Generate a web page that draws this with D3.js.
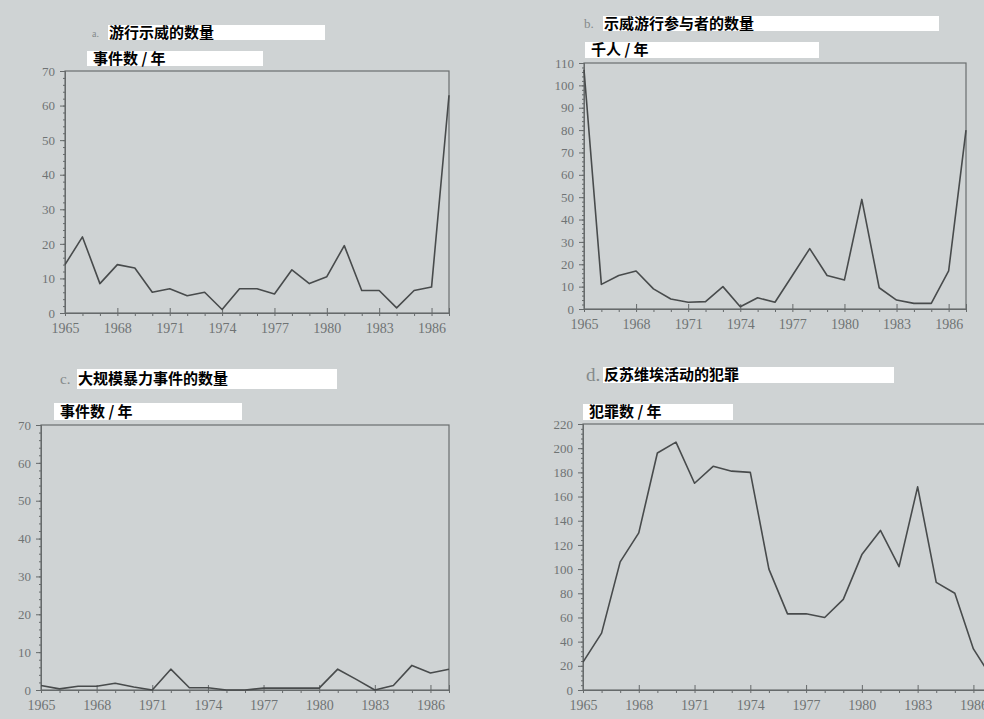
<!DOCTYPE html>
<html lang="zh">
<head>
  <meta charset="utf-8">
  <title>四个小图</title>
  <script src="https://cdn.jsdelivr.net/npm/d3@7"></script>
  <style>
    body { margin: 0; background: #cfd3d4; }
    svg { display: block; }
    .tick text { font-family: "Liberation Serif", "DejaVu Serif", serif; fill: #6f7374; }
    .domain, .tick line { stroke: #666a6b; }
  </style>
</head>
<body>
  <script>
    // 数据
    var years = d3.range(1965, 1988);
    var demonstrations = [14, 22, 8.5, 14, 13, 6, 7, 5, 6, 1, 7, 7, 5.5, 12.5, 8.5, 10.5, 19.5, 6.5, 6.5, 1.5, 6.5, 7.5, 63];
    var participants = [107, 11, 15, 17, 9, 4.5, 3, 3.3, 10, 1, 5, 3, 15, 27, 15, 13, 49, 9.5, 4, 2.5, 2.5, 17, 80];
    var violence = [1.2, 0.3, 1, 1, 1.8, 0.8, 0, 5.5, 0.6, 0.6, 0, 0, 0.5, 0.5, 0.5, 0.5, 5.5, 2.8, 0, 1.2, 6.5, 4.5, 5.5];
    var crimes = [23, 47, 106, 130, 196, 205, 171, 185, 181, 180, 100, 63, 63, 60, 75, 112, 132, 102, 168, 89, 80, 34, 10];
    var yearTicks = d3.range(1965, 1987, 3);
    var titles = ['游行示威的数量', '示威游行参与者的数量', '大规模暴力事件的数量', '反苏维埃活动的犯罪'];
    var units = ['事件数 / 年', '千人 / 年', '事件数 / 年', '犯罪数 / 年'];
    var letters = ['a.', 'b.', 'c.', 'd.'];

    var svg = d3.select('body').append('svg')
      .attr('width', 984)
      .attr('height', 719);

    // 版面位置
    var panels = [
      { values: demonstrations, max: 70, step: 10, x: [65, 449], y: [313, 71],
        letter: [92, 37, 10], title: [108, 25, 217, 15], unit: [87, 51, 176, 15] },
      { values: participants, max: 110, step: 10, x: [584, 966], y: [309, 63],
        letter: [584, 28, 13], title: [603, 16, 336, 15], unit: [585, 42, 234, 16] },
      { values: violence, max: 70, step: 10, x: [41, 449], y: [690, 425],
        letter: [60, 384, 15], title: [77, 369, 260, 20], unit: [54, 403, 188, 17] },
      { values: crimes, max: 220, step: 20, x: [583, 992], y: [690, 424],
        letter: [586, 381, 19], title: [603, 367, 291, 16], unit: [583, 404, 150, 16] }
    ];

    panels.forEach(function (p, i) {
      var x = d3.scaleLinear().domain([1965, 1987]).range(p.x);
      var y = d3.scaleLinear().domain([0, p.max]).range(p.y);
      var g = svg.append('g');

      // 边框
      g.append('rect')
        .attr('x', p.x[0]).attr('y', p.y[1])
        .attr('width', p.x[1] - p.x[0]).attr('height', p.y[0] - p.y[1])
        .attr('fill', 'none').attr('stroke', '#6a6e6f').attr('stroke-width', 1.2);

      // 次刻度
      g.append('g')
        .attr('transform', 'translate(' + p.x[0] + ',0)')
        .call(d3.axisLeft(y).tickValues(d3.range(0, p.max + 0.01, p.step / 5)).tickSize(2).tickFormat(''));
      g.append('g')
        .attr('transform', 'translate(0,' + p.y[0] + ')')
        .call(d3.axisBottom(x).tickValues(years).tickSize(3).tickFormat(''));

      // 主刻度
      g.append('g')
        .attr('transform', 'translate(' + p.x[0] + ',0)')
        .call(d3.axisLeft(y).tickValues(d3.range(0, p.max + 0.01, p.step)).tickSize(5).tickPadding(5))
        .call(function (a) { a.selectAll('text').style('font-size', '13px'); });
      g.append('g')
        .attr('transform', 'translate(0,' + p.y[0] + ')')
        .call(d3.axisBottom(x).tickValues(yearTicks).tickSize(-5).tickPadding(10).tickFormat(d3.format('d')))
        .call(function (a) { a.selectAll('text').style('font-size', '14px'); });

      // 折线
      var line = d3.line()
        .x(function (d, j) { return x(years[j]); })
        .y(function (d) { return y(d); });
      g.append('path')
        .datum(p.values)
        .attr('d', line)
        .attr('fill', 'none')
        .attr('stroke', '#484b4c')
        .attr('stroke-width', 1.6)
        .attr('stroke-linejoin', 'round');

      // 标题
      g.append('text')
        .attr('x', p.letter[0]).attr('y', p.letter[1])
        .attr('font-family', 'Liberation Serif, serif')
        .attr('font-size', p.letter[2])
        .attr('fill', '#858a8b')
        .text(letters[i]);
      g.append('rect')
        .attr('x', p.title[0]).attr('y', p.title[1])
        .attr('width', p.title[2]).attr('height', p.title[3])
        .attr('fill', '#fff');
      g.append('text')
        .attr('x', p.title[0] + 1).attr('y', p.title[1] + p.title[3] / 2 + 5)
        .attr('font-family', 'Noto Sans CJK SC')
        .attr('font-weight', 'bold')
        .attr('font-size', 15)
        .text(titles[i]);
      g.append('rect')
        .attr('x', p.unit[0]).attr('y', p.unit[1])
        .attr('width', p.unit[2]).attr('height', p.unit[3])
        .attr('fill', '#fff');
      g.append('text')
        .attr('x', p.unit[0] + 6).attr('y', p.unit[1] + p.unit[3] / 2 + 5)
        .attr('font-family', 'Noto Sans CJK SC')
        .attr('font-weight', 'bold')
        .attr('font-size', 15)
        .text(units[i]);
    });
  </script>
</body>
</html>
